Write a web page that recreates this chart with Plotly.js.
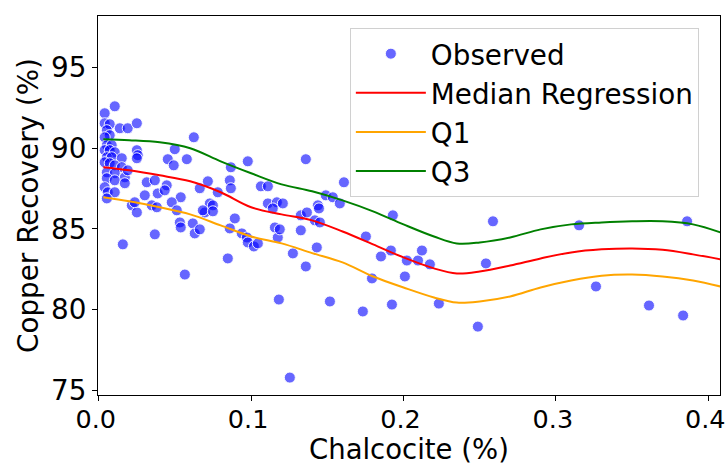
<!DOCTYPE html>
<html>
<head>
<meta charset="utf-8">
<script src="https://cdn.plot.ly/plotly-3.0.1.min.js"></script>
<style>html,body{margin:0;padding:0;background:#fff;}#chart{width:727px;height:465px;}</style>
</head>
<body>
<div id="chart"></div>
<script>
// Observed data
const obsX = [0.0105,0.0039,0.0039,0.0072,0.0138,0.019,0.025,0.0053,0.0072,0.0039,0.0053,0.0085,0.0039,0.0072,0.0105,0.0053,0.0085,0.0151,0.025,0.0256,0.025,0.0039,0.0072,0.0105,0.0151,0.0053,0.0105,0.0171,0.0053,0.0105,0.0171,0.0039,0.0059,0.0105,0.0053,0.0315,0.0368,0.0302,0.0387,0.0624,0.0499,0.0453,0.0492,0.0578,0.0978,0.0867,0.086,0.0867,0.0716,0.0663,0.0781,0.0538,0.0446,0.0433,0.0217,0.025,0.0236,0.0348,0.0381,0.0479,0.0512,0.0532,0.0538,0.0617,0.063,0.0663,0.0368,0.0158,0.0696,0.0729,0.0749,0.086,0.0893,0.0939,0.0972,0.0978,0.1018,0.1044,0.0847,0.0565,0.1064,0.111,0.111,0.1169,0.1208,0.1142,0.1182,0.1517,0.1254,0.1274,0.1359,0.1431,0.1175,0.1156,0.1188,0.1326,0.1359,0.0683,0.0749,0.1326,0.1366,0.1418,0.1451,0.1438,0.1445,0.149,0.1536,0.1582,0.1609,0.193,0.1753,0.1852,0.1917,0.2022,0.2095,0.2121,0.2173,0.1793,0.2009,0.1733,0.1924,0.2232,0.2488,0.2587,0.2541,0.3152,0.3861,0.3263,0.3611,0.3835,0.019];
const obsY = [92.6,92.17,91.55,91.49,91.24,91.24,91.55,91.12,90.81,90.68,90.19,90.19,89.88,89.88,89.75,89.44,89.44,89.38,89.88,89.57,89.38,89.13,89.07,88.94,88.82,88.51,88.45,88.2,88.14,88.01,87.83,87.58,87.27,87.27,86.89,87.89,88.01,87.08,87.2,90.68,89.94,89.32,88.94,89.32,89.19,88.82,88.01,87.52,87.95,87.52,87.27,86.96,87.7,87.39,86.46,86.02,86.65,86.46,86.34,86.65,86.15,85.4,85.09,85.34,84.72,84.97,84.66,84.04,86.02,86.58,86.46,85.03,85.65,84.72,84.47,84.16,83.91,84.1,83.17,82.17,87.64,87.64,86.58,86.65,86.58,86.27,80.62,80.5,75.78,83.48,82.67,83.85,84.47,85.09,84.97,84.91,89.32,86.15,86.09,85.84,86.02,85.53,85.4,86.46,86.27,87.08,86.96,86.58,87.89,85.84,84.53,83.29,83.66,83.04,83.04,83.66,82.8,81.93,82.05,79.88,80.31,80.37,78.94,85.47,82.86,85.22,85.47,81.43,80.25,79.63,88.63];

// Regression curves
const fitX = [0.003,0.02,0.04,0.06,0.08,0.1,0.12,0.14,0.16,0.18,0.2,0.22,0.235,0.25,0.27,0.29,0.31,0.33,0.35,0.37,0.39,0.408];
const medianY = [88.82,88.63,88.32,87.95,87.27,86.34,85.9,85.53,84.84,84.04,83.23,82.55,82.24,82.36,82.73,83.17,83.54,83.73,83.79,83.7,83.42,83.11];
const q1Y = [86.96,86.71,86.34,85.9,85.22,84.53,84.1,83.5,82.92,82.05,81.37,80.75,80.43,80.5,80.81,81.37,81.8,82.1,82.17,82.05,81.8,81.43];
const q3Y = [90.56,90.5,90.37,90.0,89.19,88.45,87.76,87.33,86.77,86.09,85.28,84.53,84.1,84.16,84.47,84.97,85.28,85.4,85.47,85.47,85.28,84.78];

const xTicks = [0, 0.1, 0.2, 0.3, 0.4];
const xTickText = ['0.0','0.1','0.2','0.3','0.4'];
const yTicks = [75, 80, 85, 90, 95];
const xTitle = 'Chalcocite (%)';
const yTitle = 'Copper Recovery (%)';

const FONT = 'DejaVu Sans, sans-serif';
const FS = 27.8;
const TFS = 25.5;

const traces = [
  {x: obsX, y: obsY, type: 'scatter', mode: 'markers', name: 'Observed', legendgroup:'a',
   marker: {color: 'rgba(0,0,255,0.6)', size: 11, line: {color: 'rgba(255,255,255,0.9)', width: 1}}},
  {x: fitX, y: medianY, type: 'scatter', mode: 'lines', name: 'Median Regression', legendgroup:'b',
   line: {color: 'red', width: 2, shape: 'spline'}},
  {x: fitX, y: q1Y, type: 'scatter', mode: 'lines', name: 'Q1', legendgroup:'c',
   line: {color: 'orange', width: 2, shape: 'spline'}},
  {x: fitX, y: q3Y, type: 'scatter', mode: 'lines', name: 'Q3', legendgroup:'d',
   line: {color: 'green', width: 2, shape: 'spline'}}
];

const layout = {
  width: 727, height: 465,
  margin: {l: 98, r: 7, t: 16, b: 70},
  paper_bgcolor: '#fff', plot_bgcolor: '#fff',
  font: {family: FONT, color: '#000', size: FS},
  showlegend: true,
  legend: {
    x: 0.966, xanchor: 'right', y: 0.968, yanchor: 'top',
    bgcolor: 'rgba(255,255,255,0.8)', bordercolor: '#d0d0d0', borderwidth: 1,
    font: {family: FONT, size: FS, color: '#000'},
    traceorder: 'grouped', tracegroupgap: 0, itemwidth: 70
  },
  annotations: [
    {text: xTitle, xref: 'paper', yref: 'paper', x: 0.5, y: 0, xanchor: 'center', yanchor: 'top',
     yshift: -37, showarrow: false, borderpad: 0, font: {family: FONT, size: 27.5, color: '#000'}}
  ],
  xaxis: {
    range: [-0.0005, 0.4077], tickvals: xTicks, ticktext: xTickText,
    showline: true, linecolor: '#000', linewidth: 1, mirror: true,
    ticks: 'outside', ticklen: 5, tickcolor: '#000', showgrid: false, zeroline: false,
    ticklabeloverflow: 'allow', ticklabelshift: -3, ticklabelstandoff: -4,
    tickfont: {family: FONT, size: TFS, color: '#000'}
  },
  yaxis: {
    range: [74.7, 98.2], tickvals: yTicks,
    showline: true, linecolor: '#000', linewidth: 1, mirror: true,
    ticks: 'outside', ticklen: 5, tickcolor: '#000', showgrid: false, zeroline: false,
    tickfont: {family: FONT, size: FS, color: '#000'},
    title: {text: yTitle, font: {family: FONT, size: FS, color: '#000'}, standoff: 4}
  }
};

Plotly.newPlot('chart', traces, layout, {displayModeBar: false, staticPlot: true});
</script>
</body>
</html>
